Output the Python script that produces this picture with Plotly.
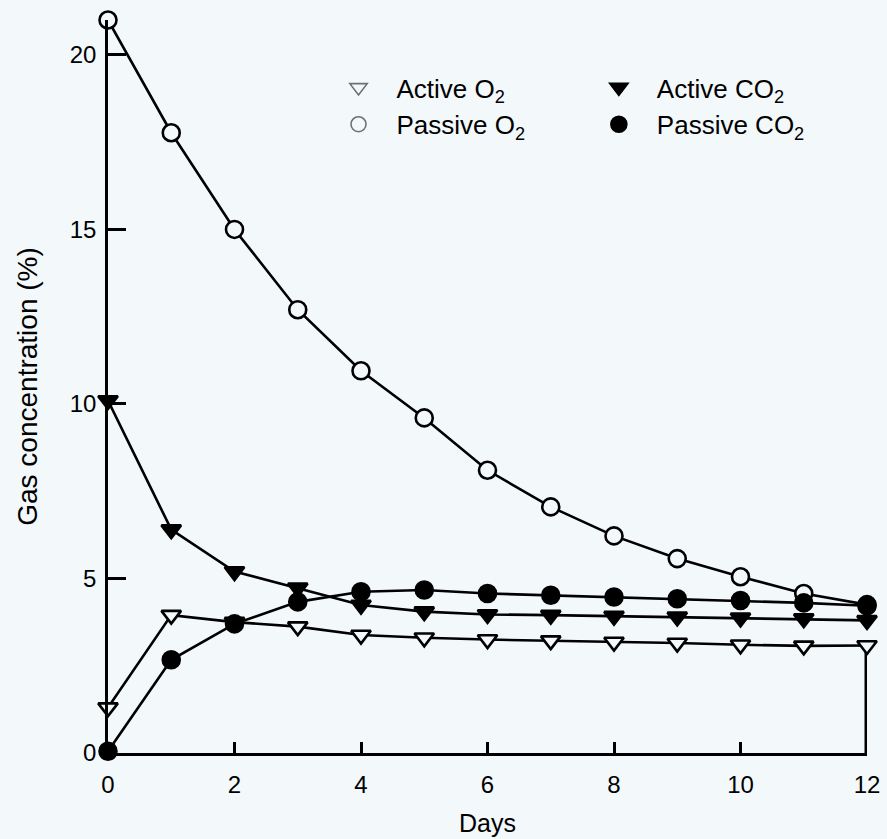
import plotly.graph_objects as go

days = [0, 1, 2, 3, 4, 5, 6, 7, 8, 9, 10, 11, 12]
active_o2 = [1.3, 3.95, 3.75, 3.62, 3.38, 3.3, 3.25, 3.22, 3.18, 3.15, 3.1, 3.07, 3.08]
passive_o2 = [21.0, 17.77, 15.0, 12.7, 10.95, 9.6, 8.1, 7.05, 6.22, 5.57, 5.05, 4.57, 4.25]
active_co2 = [10.1, 6.4, 5.2, 4.73, 4.24, 4.05, 3.97, 3.95, 3.92, 3.9, 3.87, 3.85, 3.8]
passive_co2 = [0.05, 2.67, 3.7, 4.33, 4.62, 4.67, 4.57, 4.52, 4.47, 4.42, 4.37, 4.3, 4.22]

x_ticks = [0, 2, 4, 6, 8, 10, 12]
y_ticks = [0, 5, 10, 15, 20]

BG = "#f3f8fb"
FONT = "Liberation Sans, Arial, Helvetica, sans-serif"

series = [
    ("Active O<sub>2</sub>", active_o2, "triangle-down-open", "legend"),
    ("Passive O<sub>2</sub>", passive_o2, "circle-open", "legend"),
    ("Active CO<sub>2</sub>", active_co2, "triangle-down", "legend2"),
    ("Passive CO<sub>2</sub>", passive_co2, "circle", "legend2"),
]

fig = go.Figure()

# right-hand drop line at the last day (half of it is clipped at the plot edge)
fig.add_trace(go.Scatter(x=[days[-1], days[-1]], y=[0, active_o2[-1]], mode="lines",
                         line=dict(color="black", width=5), showlegend=False,
                         hoverinfo="skip", cliponaxis=False))

for name, vals, sym, lg in series:
    filled = not sym.endswith("open")
    fig.add_trace(go.Scatter(
        x=days, y=vals, mode="lines+markers", name=name, showlegend=False,
        line=dict(color="black", width=2.6),
        marker=dict(symbol=sym if filled else sym.replace("-open", ""), size=17,
                    color="black" if filled else BG,
                    line=dict(color="black", width=2.6)),
        cliponaxis=False,
    ))

leg_sizes = {"triangle-down-open": 15, "circle-open": 15, "triangle-down": 17, "circle": 16}
for name, vals, sym, lg in series:
    filled = not sym.endswith("open")
    fig.add_trace(go.Scatter(
        x=[None], y=[None], mode="markers", name=name, legend=lg,
        marker=dict(symbol=sym, size=leg_sizes[sym],
                    color="black" if filled else "#6f6f6f",
                    line=dict(color="black" if filled else "#6f6f6f", width=1.6)),
    ))

leg_common = dict(yanchor="top", xanchor="left", bgcolor="rgba(0,0,0,0)",
                  font=dict(size=26), itemwidth=66, tracegroupgap=0)

fig.update_layout(
    width=887, height=839,
    paper_bgcolor=BG, plot_bgcolor=BG,
    margin=dict(l=108, r=20, t=20, b=86),
    font=dict(family=FONT, size=25, color="black"),
    showlegend=True,
    legend=dict(x=0.28, y=0.94, **leg_common),
    legend2=dict(x=0.623, y=0.94, **leg_common),
    xaxis=dict(range=[0, 12], tickvals=x_ticks, ticks="inside", ticklen=11, tickwidth=2.5,
               tickcolor="black", showline=True, linecolor="black", linewidth=2.6,
               showgrid=False, zeroline=False, ticklabelstandoff=8, automargin=False,
               tickfont=dict(size=24),
               title=dict(text="Days", standoff=18, font=dict(size=25))),
    yaxis=dict(range=[0, 21], tickvals=y_ticks, ticks="inside", ticklen=18, tickwidth=2.5,
               tickcolor="black", showline=True, linecolor="black", linewidth=2.6,
               showgrid=False, zeroline=False, ticklabelstandoff=4, automargin=False,
               tickfont=dict(size=24),
               title=dict(text="Gas concentration (%)", standoff=24, font=dict(size=28))),
)

fig.write_html(
    "out.html",
    config={"displayModeBar": False},
    post_script="document.body.style.margin='0';document.body.style.background='%s';" % BG,
)
